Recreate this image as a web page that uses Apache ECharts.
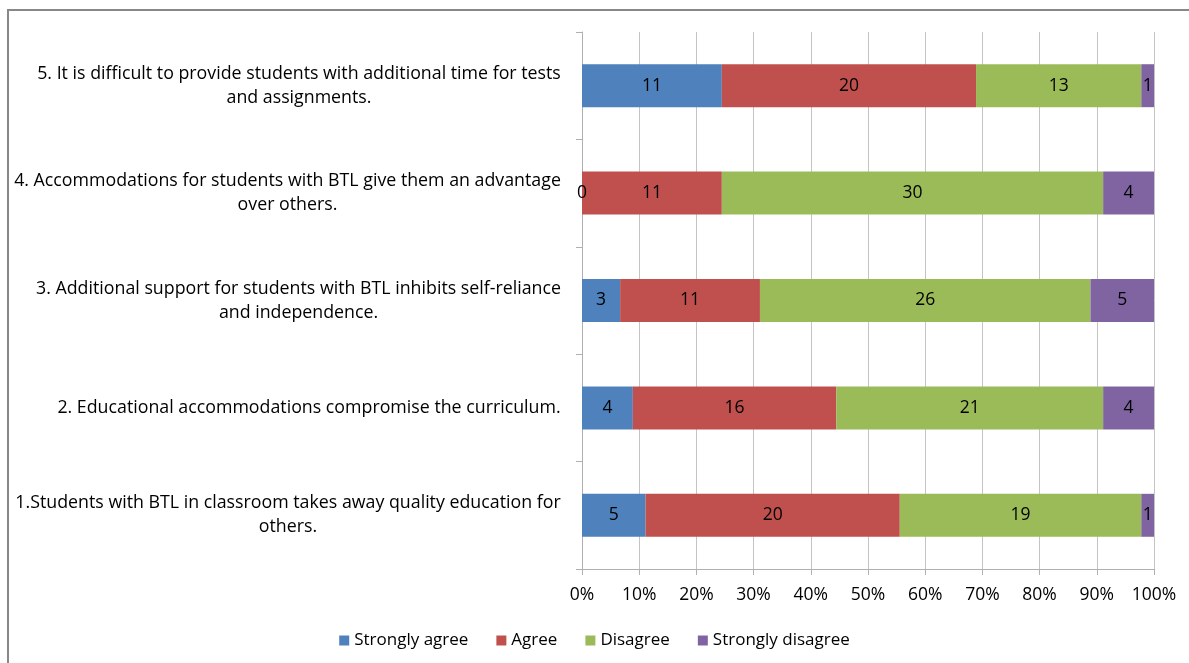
<!DOCTYPE html>
<html><head><meta charset="utf-8">
<script src="https://cdn.jsdelivr.net/npm/echarts@6/dist/echarts.min.js"></script>
<style>
html,body{margin:0;padding:0;background:#fff;}
#frame{position:absolute;left:7px;top:9px;width:1200px;height:700px;border:2px solid #888;box-sizing:border-box;}
#chart{position:absolute;left:0;top:0;width:1189px;height:663px;}
</style></head><body>
<div id="frame"></div>
<div id="chart"></div>
<script>
const categories = [
  ["1.Students with BTL in classroom takes away quality education for", "others."],
  ["2. Educational accommodations compromise the curriculum."],
  ["3. Additional support for students with BTL inhibits self-reliance", "and independence."],
  ["4. Accommodations for students with BTL give them an advantage", "over others."],
  ["5. It is difficult to provide students with additional time for tests", "and assignments."]
];
const seriesNames = ["Strongly agree", "Agree", "Disagree", "Strongly disagree"];
const stronglyAgree = [5, 4, 3, 0, 11];
const agree = [20, 16, 11, 11, 20];
const disagree = [19, 21, 26, 30, 13];
const stronglyDisagree = [1, 4, 5, 4, 1];
const xTicks = [0, 10, 20, 30, 40, 50, 60, 70, 80, 90, 100];

const colors = ["#4F81BD", "#C0504D", "#9BBB59", "#8064A2"];
const FONT = "'Open Sans', 'Noto Sans', sans-serif";
const FS = 17.8;

const counts = [stronglyAgree, agree, disagree, stronglyDisagree];
const totals = categories.map((_, i) => counts.reduce((s, a) => s + a[i], 0));

const cv = document.createElement('canvas').getContext('2d');
cv.font = FS + "px " + FONT;
const rich = {};
categories.forEach((lines, i) => {
  const w = Math.max(...lines.map(l => cv.measureText(l).width));
  rich['l' + i] = { width: Math.ceil(w) + 2, align: 'center', fontSize: FS, fontFamily: FONT, color: '#000', lineHeight: 24 };
});

const chart = echarts.init(document.getElementById('chart'), null, { renderer: 'canvas' });
chart.setOption({
  animation: false,
  textStyle: { fontFamily: FONT },
  grid: { left: 582, right: 35, top: 32, bottom: 94, containLabel: false },
  legend: {
    bottom: 9, left: 'center',
    itemWidth: 10, itemHeight: 10, itemGap: 28,
    icon: 'rect',
    textStyle: { fontSize: 17, fontFamily: FONT, color: '#000' },
    data: seriesNames
  },
  xAxis: {
    type: 'value', min: 0, max: 100, interval: 10,
    axisLine: { show: true, lineStyle: { color: '#b0b0b0' } },
    axisTick: { show: true, length: 6, lineStyle: { color: '#b0b0b0' } },
    splitLine: { show: true, lineStyle: { color: '#c4c4c4' } },
    axisLabel: { fontSize: 17.5, fontFamily: FONT, color: '#000', margin: 17, formatter: v => v + '%' }
  },
  yAxis: {
    type: 'category',
    data: categories.map((_, i) => String(i)),
    axisLine: { show: true, lineStyle: { color: '#b0b0b0' } },
    axisTick: { show: true, length: 6, lineStyle: { color: '#b0b0b0' } },
    axisLabel: {
      margin: 20, align: 'right',
      formatter: (v) => { const i = +v; return categories[i].map(l => '{l' + i + '|' + l + '}').join('\n'); },
      rich: rich
    }
  },
  series: seriesNames.map((name, k) => ({
    name, type: 'bar', stack: 'total', barWidth: '40%',
    itemStyle: { color: colors[k] },
    label: {
      show: true, position: 'inside', color: '#000', fontSize: 17.5, fontFamily: FONT,
      formatter: p => String(counts[k][p.dataIndex])
    },
    data: counts[k].map((c, i) => c / totals[i] * 100)
  }))
});
</script>
</body></html>
